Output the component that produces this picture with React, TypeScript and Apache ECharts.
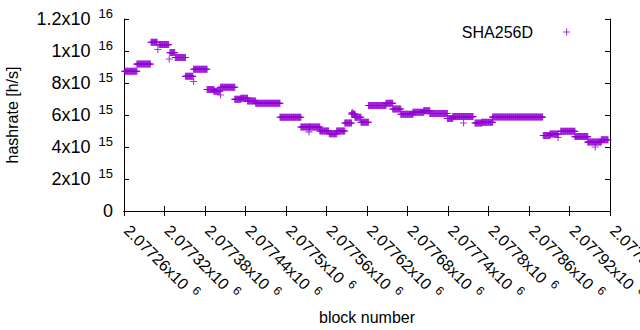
import React, { useEffect, useRef } from "react";
import * as echarts from "echarts";

// Piecewise-constant hashrate segments (values in 1e15 h/s)
const SEG_START = [2077261, 2077279, 2077300, 2077312, 2077328, 2077336, 2077351, 2077363, 2077383, 2077393, 2077403, 2077424, 2077433, 2077443, 2077455, 2077491, 2077522, 2077535, 2077550, 2077564, 2077575, 2077587, 2077597, 2077602, 2077611, 2077622, 2077648, 2077658, 2077670, 2077688, 2077704, 2077713, 2077739, 2077747, 2077780, 2077790, 2077806, 2077881, 2077891, 2077907, 2077928, 2077947, 2077967];
const SEG_END = [2077279, 2077299, 2077309, 2077326, 2077335, 2077351, 2077362, 2077383, 2077393, 2077402, 2077424, 2077433, 2077443, 2077455, 2077491, 2077522, 2077535, 2077550, 2077563, 2077575, 2077587, 2077597, 2077602, 2077611, 2077622, 2077648, 2077658, 2077670, 2077688, 2077704, 2077713, 2077739, 2077747, 2077777, 2077790, 2077806, 2077880, 2077891, 2077903, 2077928, 2077947, 2077967, 2077977];
const SEG_VALUE = [8.73, 9.18, 10.55, 10.4, 9.9, 9.6, 8.42, 8.86, 7.6, 7.48, 7.73, 6.98, 7.05, 6.88, 6.73, 5.86, 5.25, 5.25, 5.0, 4.83, 5.0, 5.5, 6.07, 5.86, 5.54, 6.6, 6.73, 6.38, 6.05, 6.17, 6.27, 6.1, 5.78, 5.9, 5.5, 5.54, 5.87, 4.72, 4.81, 4.98, 4.65, 4.31, 4.46];
// isolated outlying points
const SINGLE_BLOCK = [2077310, 2077327, 2077363, 2077403, 2077534, 2077598, 2077763, 2077903, 2077958];
const SINGLE_VALUE = [10.1, 9.5, 8.1, 7.25, 4.95, 6.15, 5.5, 4.6, 4.0];

const X_MIN = 2077260;
const X_MAX = 2077980;
const X_STEP = 60;
const Y_MAX = 1.2e16;
const Y_STEP = 2e15;

const PLUS = "path://M0,3H7V4.1H0Z M3,0H4.1V7H3Z";
const COLOR = "#9400d3";
const FONT = "'Liberation Sans', Arial, sans-serif";

function buildPoints(): number[][] {
  const pts: number[][] = [];
  for (let i = 0; i < SEG_START.length; i++) {
    for (let b = SEG_START[i]; b <= SEG_END[i]; b++) {
      pts.push([b, SEG_VALUE[i] * 1e15]);
    }
  }
  for (let i = 0; i < SINGLE_BLOCK.length; i++) {
    pts.push([SINGLE_BLOCK[i], SINGLE_VALUE[i] * 1e15]);
  }
  return pts;
}

function sci(v: number): string {
  if (v === 0) return "{m|0}";
  const exp = Math.floor(Math.log10(Math.abs(v)) + 1e-9);
  const mant = Number((v / Math.pow(10, exp)).toFixed(5));
  return "{m|" + mant + "x10}{g| }{e|" + exp + "}";
}

const xRich = {
  m: { fontSize: 16, fontFamily: FONT, color: "#000" },
  g: { fontSize: 12, width: 7 },
  e: { fontSize: 12, fontFamily: FONT, color: "#000", padding: [0, 0, 10, 0] },
};
const yRich = {
  m: { fontSize: 18, fontFamily: FONT, color: "#000" },
  g: { fontSize: 13, width: 8 },
  e: { fontSize: 13, fontFamily: FONT, color: "#000", padding: [0, 0, 11, 0] },
};

export default function App() {
  const ref = useRef<HTMLDivElement>(null);
  useEffect(() => {
    if (!ref.current) return;
    const chart = echarts.init(ref.current, undefined, { renderer: "svg" });
    const axisLine = { show: true, lineStyle: { color: "#000", width: 1 } };
    const tick = { show: true, inside: true, length: 5, lineStyle: { color: "#000" } };
    chart.setOption({
      animation: false,
      backgroundColor: "#fff",
      grid: { left: 124, right: 30, top: 19, bottom: 119, containLabel: false, outerBoundsMode: "none" },
      legend: {
        data: [{ name: "SHA256D", icon: PLUS }],
        right: 65,
        top: 19,
        align: "right",
        itemWidth: 7,
        itemHeight: 7,
        textStyle: { fontSize: 16, fontFamily: FONT, color: "#000", padding: [0, 25, 0, 0] },
      },
      xAxis: [
        {
          type: "value",
          min: X_MIN,
          max: X_MAX,
          interval: X_STEP,
          position: "bottom",
          name: "block number",
          nameLocation: "middle",
          nameGap: 97,
          nameTextStyle: { fontSize: 16, fontFamily: FONT, color: "#000" },
          axisLine,
          axisTick: tick,
          splitLine: { show: false },
          axisLabel: {
            rotate: -45,
            margin: 14,
            padding: [0, 0, 0, 4],
            formatter: (v: number) => sci(v),
            rich: xRich,
          },
        },
        {
          type: "value",
          min: X_MIN,
          max: X_MAX,
          interval: X_STEP,
          position: "top",
          axisLine,
          axisTick: tick,
          axisLabel: { show: false },
          splitLine: { show: false },
        },
      ],
      yAxis: [
        {
          type: "value",
          min: 0,
          max: Y_MAX,
          interval: Y_STEP,
          position: "left",
          name: "hashrate [h/s]",
          nameLocation: "middle",
          nameGap: 104,
          nameTextStyle: { fontSize: 16, fontFamily: FONT, color: "#000" },
          axisLine,
          axisTick: tick,
          splitLine: { show: false },
          axisLabel: { margin: 11, formatter: (v: number) => sci(v), rich: yRich },
        },
        {
          type: "value",
          min: 0,
          max: Y_MAX,
          interval: Y_STEP,
          position: "right",
          axisLine,
          axisTick: tick,
          axisLabel: { show: false },
          splitLine: { show: false },
        },
      ],
      series: [
        {
          name: "SHA256D",
          type: "scatter",
          xAxisIndex: 0,
          yAxisIndex: 0,
          symbol: PLUS,
          symbolSize: 7,
          itemStyle: { color: COLOR },
          data: buildPoints(),
          large: false,
        },
      ],
    });
    return () => chart.dispose();
  }, []);
  return (
    <div
      ref={ref}
      style={{ position: "fixed", left: 0, top: 0, width: 640, height: 330, background: "#fff" }}
    />
  );
}
